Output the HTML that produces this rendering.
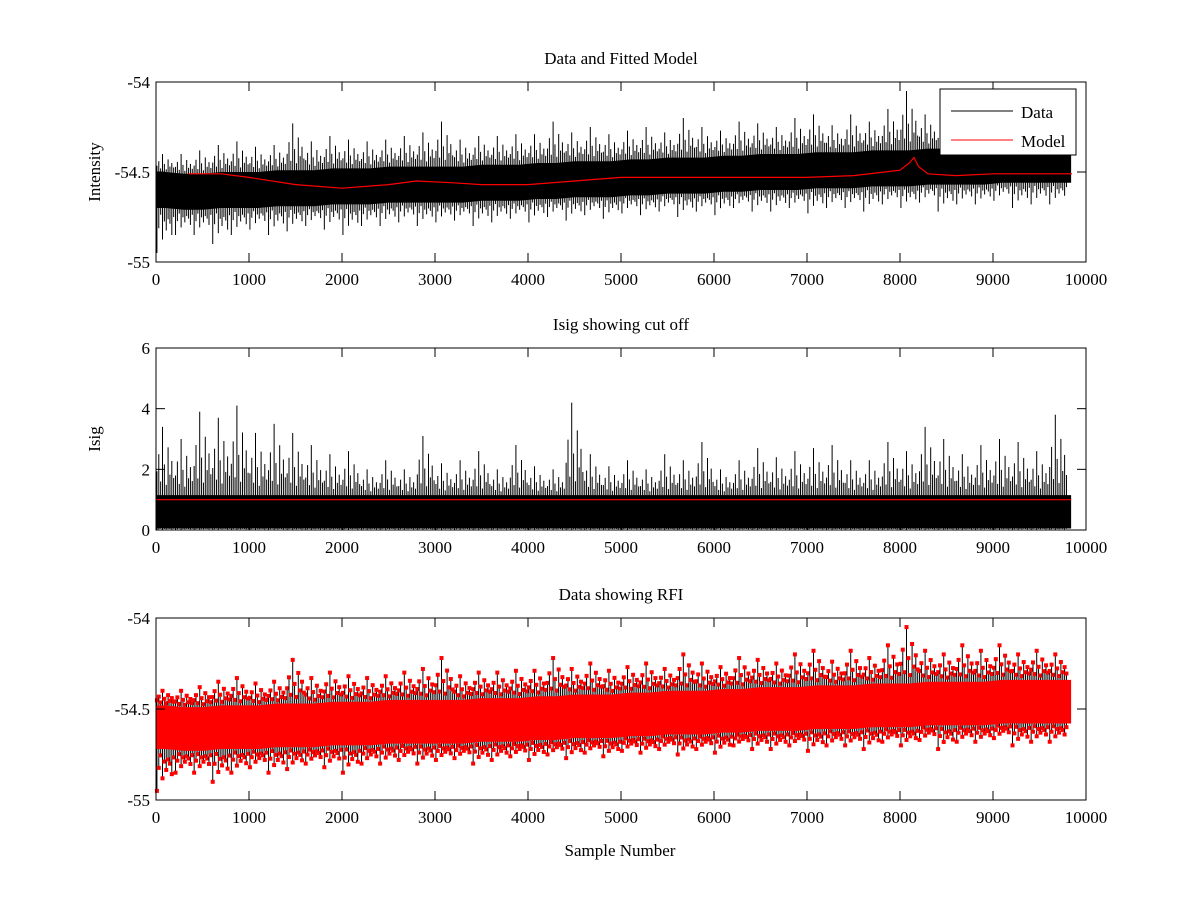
<!DOCTYPE html>
<html><head><meta charset="utf-8"><style>
body{margin:0;background:#fff;}
svg{display:block;font-family:"Liberation Serif",serif;}
</style></head><body>
<svg id="fig" width="1200" height="900"></svg>
<script>
// ---- data (binned every 200 samples, 0..9600) ----
const binStarts = Array.from({length:49},(_,i)=>i*200);
const intensityMean = [-54.60,-54.61,-54.61,-54.60,-54.60,-54.60,-54.59,-54.59,-54.59,-54.58,-54.58,-54.58,-54.57,-54.57,-54.57,-54.57,-54.57,-54.56,-54.56,-54.56,-54.55,-54.55,-54.54,-54.54,-54.54,-54.53,-54.53,-54.52,-54.52,-54.52,-54.51,-54.51,-54.50,-54.50,-54.50,-54.49,-54.49,-54.49,-54.48,-54.48,-54.48,-54.47,-54.47,-54.47,-54.47,-54.46,-54.46,-54.46,-54.46];
const intensityMax = [-54.40,-54.40,-54.38,-54.35,-54.33,-54.36,-54.35,-54.23,-54.33,-54.30,-54.32,-54.33,-54.32,-54.30,-54.28,-54.22,-54.32,-54.30,-54.30,-54.29,-54.29,-54.22,-54.28,-54.25,-54.29,-54.27,-54.25,-54.28,-54.20,-54.25,-54.27,-54.22,-54.23,-54.25,-54.20,-54.18,-54.24,-54.18,-54.22,-54.15,-54.05,-54.18,-54.20,-54.15,-54.18,-54.15,-54.20,-54.18,-54.20];
const intensityMin = [-54.95,-54.85,-54.85,-54.90,-54.85,-54.82,-54.85,-54.83,-54.80,-54.82,-54.85,-54.80,-54.80,-54.78,-54.80,-54.78,-54.77,-54.80,-54.78,-54.76,-54.78,-54.75,-54.77,-54.74,-54.76,-54.73,-54.74,-54.72,-54.75,-54.72,-54.74,-54.70,-54.72,-54.72,-54.70,-54.73,-54.70,-54.70,-54.72,-54.68,-54.70,-54.67,-54.72,-54.68,-54.68,-54.66,-54.70,-54.68,-54.68];
const modelX = [350,700,1000,1500,2000,2500,2800,3200,3500,4000,4500,5000,6000,7000,7500,8000,8100,8150,8200,8300,8600,9000,9850];
const modelY = [-54.51,-54.51,-54.53,-54.57,-54.59,-54.57,-54.55,-54.56,-54.57,-54.57,-54.55,-54.53,-54.53,-54.53,-54.52,-54.49,-54.45,-54.42,-54.47,-54.51,-54.52,-54.51,-54.51];
const isigMax = [3.4,3.0,3.9,3.7,4.1,3.2,3.5,3.2,2.8,2.5,2.6,2.0,2.3,2.0,3.1,2.2,2.3,2.6,2.0,2.8,2.1,2.0,4.2,2.5,2.1,2.3,2.0,2.5,2.3,2.9,2.0,2.3,2.7,2.4,2.6,2.7,2.8,2.3,2.3,2.9,2.6,3.4,3.0,2.5,2.8,3.0,2.9,2.6,3.8];
const isigCore = 1.15;
const cutoff = 1.0;
const xTicks = [0,1000,2000,3000,4000,5000,6000,7000,8000,9000,10000];
const yTicks1 = [-55,-54.5,-54];
const yTicks2 = [0,2,4,6];
const binWidth = 200, dataEnd = 9840;
// fixed rendering pattern: fraction of the way toward the bin extreme for each sub-stroke
const strokeFrac = [0.35,0.6,0.2,1.0,0.45,0.15,0.7,0.3,0.5,0.25];

const NS="http://www.w3.org/2000/svg";
const svg=document.getElementById('fig');
function el(tag,attrs,parent){const e=document.createElementNS(NS,tag);for(const k in attrs)e.setAttribute(k,attrs[k]);(parent||svg).appendChild(e);return e;}
const X0=156,X1=1086;
const sx=v=>X0+(v/10000)*(X1-X0);

function axes(top,bottom,ymin,ymax,yt,title,ylabel,name){
  const sy=v=>bottom-(v-ymin)/(ymax-ymin)*(bottom-top);
  const g=el('g',{});
  
  
  return {g,sy,top,bottom,finish(){
    const b=el('rect',{x:X0,y:top,width:X1-X0,height:bottom-top,fill:'none',stroke:'#000','stroke-width':1},g);
    
    xTicks.forEach(t=>{const x=sx(t);
      el('line',{x1:x,x2:x,y1:bottom,y2:bottom-9,stroke:'#000'},g);
      el('line',{x1:x,x2:x,y1:top,y2:top+9,stroke:'#000'},g);
      const tx=el('text',{x:x,y:bottom+23,'text-anchor':'middle','font-size':17},g);tx.textContent=t;
      });
    yt.forEach(t=>{const y=sy(t);
      el('line',{x1:X0,x2:X0+9,y1:y,y2:y,stroke:'#000'},g);
      el('line',{x1:X1,x2:X1-9,y1:y,y2:y,stroke:'#000'},g);
      const tx=el('text',{x:X0-6,y:y+6,'text-anchor':'end','font-size':17},g);tx.textContent=t;
      });
    const tt=el('text',{x:(X0+X1)/2,y:top-18,'text-anchor':'middle','font-size':17},g);tt.textContent=title;
    
    const yl=el('text',{x:0,y:0,'text-anchor':'middle','font-size':17,transform:`translate(100,${(top+bottom)/2}) rotate(-90)`},g);yl.textContent=ylabel;
    
  }};
}
function bandPath(lo,hi,sy){
  const n=binStarts.length, cx=i=>sx(Math.min(binStarts[i]+binWidth/2,dataEnd));
  let d='M'+sx(0)+','+sy(hi[0]);
  for(let i=0;i<n;i++) d+='L'+cx(i)+','+sy(hi[i]);
  d+='L'+sx(dataEnd)+','+sy(hi[n-1])+'L'+sx(dataEnd)+','+sy(lo[n-1]);
  for(let i=n-1;i>=0;i--) d+='L'+cx(i)+','+sy(lo[i]);
  return d+'L'+sx(0)+','+sy(lo[0])+'Z';
}
function spikes(g,sy,lo,hi,coreLo,coreHi,color,name,markers){
  binStarts.forEach((b,i)=>{strokeFrac.forEach((f,k)=>{
    const x=sx(Math.min(b+binWidth*(k+0.5)/strokeFrac.length,dataEnd));
    const f2=strokeFrac[(k+3)%strokeFrac.length];
    const yTop=coreHi[i]+(hi[i]-coreHi[i])*f, yBot=coreLo[i]-(coreLo[i]-lo[i])*f2;
    const l=el('line',{x1:x,x2:x,y1:sy(yTop),y2:sy(yBot),stroke:color,'stroke-width':1},g);
    
    if(markers){[yTop,yBot].forEach(v=>{const d=el('rect',{x:x-2,y:sy(v)-2,width:4,height:4,fill:'#f00'},g);
      });}
  });});
}
const coreHi=intensityMean.map(m=>m+0.1), coreLo=intensityMean.map(m=>m-0.1);

// Panel 1
const p1=axes(82,262,-55,-54,yTicks1,'Data and Fitted Model','Intensity','panel-data-model');
const b1=el('path',{d:bandPath(coreLo,coreHi,p1.sy),fill:'#000'},p1.g);

spikes(p1.g,p1.sy,intensityMin,intensityMax,coreLo,coreHi,'#000','data-spike',false);
const m=el('polyline',{points:modelX.map((x,i)=>sx(x)+','+p1.sy(modelY[i])).join(' '),fill:'none',stroke:'#f00','stroke-width':1.2},p1.g);

p1.finish();
const lg=el('g',{},p1.g);
el('rect',{x:940,y:89,width:136,height:66,fill:'#fff',stroke:'#000'},lg);
el('line',{x1:951,x2:1013,y1:111,y2:111,stroke:'#000'},lg);
el('line',{x1:951,x2:1013,y1:140,y2:140,stroke:'#f00'},lg);
let t=el('text',{x:1021,y:118,'font-size':17},lg);t.textContent='Data';
t=el('text',{x:1021,y:147,'font-size':17},lg);t.textContent='Model';

// Panel 2
const p2=axes(348,530,0,6,yTicks2,'Isig showing cut off','Isig','panel-isig');
const zeros=binStarts.map(()=>0.05), cores=binStarts.map(()=>isigCore);
const b2=el('path',{d:bandPath(zeros,cores,p2.sy),fill:'#000'},p2.g);

spikes(p2.g,p2.sy,binStarts.map(()=>0),isigMax,zeros,cores,'#000','isig-spike',false);
const c=el('line',{x1:sx(0),x2:sx(dataEnd),y1:p2.sy(cutoff),y2:p2.sy(cutoff),stroke:'#f00','stroke-width':1.2},p2.g);

p2.finish();

// Panel 3
const p3=axes(618,800,-55,-54,yTicks1,'Data showing RFI','','panel-rfi');
const cHi3=intensityMean.map(m=>m+0.12), cLo3=intensityMean.map(m=>m-0.12);
spikes(p3.g,p3.sy,intensityMin,intensityMax,cLo3,cHi3,'#000','rfi-spike',true);
const b3=el('path',{d:bandPath(cLo3,cHi3,p3.sy),fill:'#f00'},p3.g);

p3.finish();
const xl=el('text',{x:620,y:856,'text-anchor':'middle','font-size':17});xl.textContent='Sample Number';

</script>
</body></html>
